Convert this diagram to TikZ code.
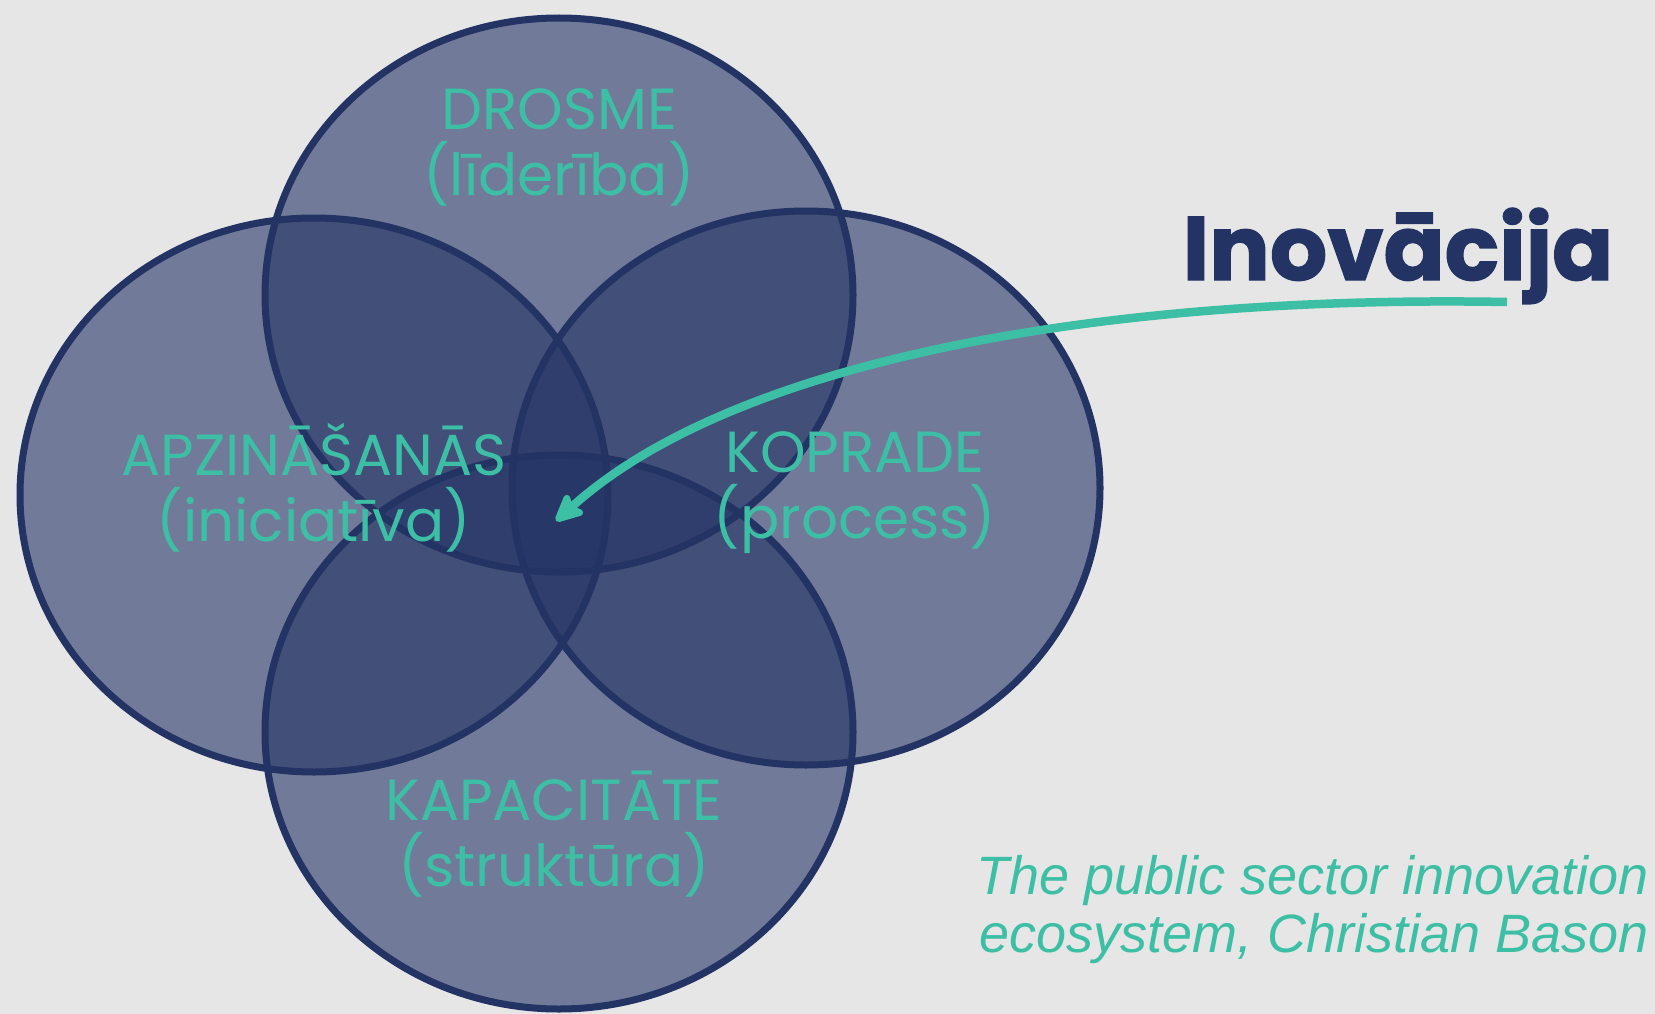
\documentclass[tikz,border=0pt]{standalone}
\usepackage{fontspec}
\setmainfont{Poppins}
\newfontfamily\heavyfont{Poppins}[BoldFeatures={FakeBold=1.5}]
\newfontfamily\notefont{Liberation Sans}
\usepackage{tikz}
\usetikzlibrary{shapes.geometric,arrows.meta}
\definecolor{navy}{RGB}{35,51,100}
\definecolor{mint}{RGB}{61,191,165}
\definecolor{paper}{RGB}{230,230,230}

\begin{document}
\begin{tikzpicture}[x=1pt, y=-1pt,
	petal/.style={ellipse, minimum width=588pt, minimum height=554pt, inner sep=0pt, fill=navy, fill opacity=0.6},
	rim/.style={draw=navy, line width=7pt},
	word/.style={text=mint, font=\fontsize{58}{66}\selectfont, align=center, anchor=base}]

			% background
			\fill[paper] (0,0) rectangle (1655,1014);

			\node[petal] (drosme) at (559,295) {};
			\node[petal] (apzin) at (314,495) {};
			\node[petal] (koprade) at (806,488) {};
			\node[petal] (kapac) at (559,732) {};

			% draw the rims over all fills
			\foreach \n in {drosme,apzin,koprade,kapac}
				\draw[rim] (\n.center) ellipse [x radius=294, y radius=277];

			% labels (anchor base sits on the last line)
			\node[word] (drosme text) at (559,195) {DROSME\\(līderība)};
			\node[word] (apzin text) at (314,541) {APZINĀŠANĀS\\(iniciatīva)};
			\node[word] (koprade text) at (855,538) {KOPRADE\\(process)};
			\node[word] (kapac text) at (554,886) {KAPACITĀTE\\(struktūra)};

			\node[text=navy, font=\fontsize{90}{90}\heavyfont\bfseries, anchor=base] (inov) at (1398,280) {Inovācija};

			\node[text=mint, font=\fontsize{54}{58}\notefont\itshape, align=right, anchor=base east] (source) at (1652,952) {The public sector innovation\\ecosystem, Christian Bason};

			% draw arrow from the title into the common core
			\coordinate (arrow start) at (1507,302);
			\coordinate (core) at (556,521);
			\draw[mint, line width=8.5pt, -{Stealth[length=34pt, width=32pt, inset=7pt, round]}] (arrow start) .. controls (1120,295) and (740,355) .. (core);

		\end{tikzpicture}
\end{document}
